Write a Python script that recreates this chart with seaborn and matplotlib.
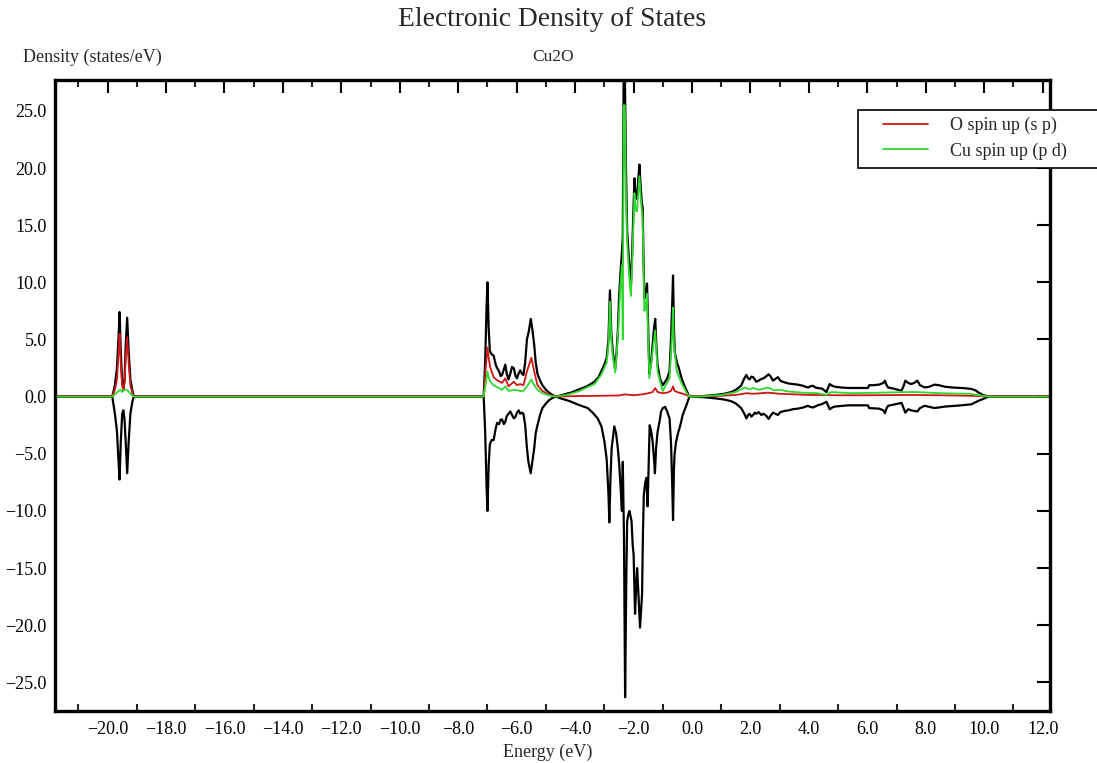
import matplotlib
matplotlib.use("Agg")
import matplotlib.pyplot as plt
import matplotlib.patches as mpatches
from matplotlib.lines import Line2D
from matplotlib.ticker import FuncFormatter, MultipleLocator
import seaborn as sns
import pandas as pd

# ---------------- data (energy in eV, density in states/eV) ----------------
total_up = [
    (-22.0, 0), (-19.84, 0), (-19.75, 1.0), (-19.68, 2.5), (-19.62, 5.5), (-19.59, 7.4),
    (-19.55, 4.0), (-19.50, 1.2), (-19.46, 0.7), (-19.42, 1.5), (-19.38, 4.5), (-19.33, 6.9),
    (-19.28, 4.0), (-19.22, 1.5), (-19.15, 0.5), (-19.10, 0), (-7.13, 0),
    (-7.08, 3.0), (-7.03, 8.0), (-7.00, 10.0), (-6.96, 6.0), (-6.92, 4.0), (-6.86, 3.7),
    (-6.79, 3.6), (-6.72, 2.8), (-6.67, 2.5), (-6.60, 2.2), (-6.55, 1.8), (-6.50, 1.9),
    (-6.44, 2.4), (-6.39, 2.8), (-6.34, 2.0), (-6.28, 1.5), (-6.22, 2.0), (-6.16, 2.6),
    (-6.10, 2.5), (-6.04, 1.8), (-5.99, 1.6), (-5.94, 2.0), (-5.88, 2.3), (-5.82, 2.0),
    (-5.77, 1.9), (-5.71, 3.0), (-5.65, 5.0), (-5.58, 5.8), (-5.52, 6.8), (-5.47, 6.0),
    (-5.40, 4.5), (-5.35, 3.0), (-5.29, 2.0), (-5.20, 1.4), (-5.12, 1.0), (-5.00, 0.6),
    (-4.89, 0.35), (-4.78, 0.15), (-4.66, 0),
    (-4.50, 0.1), (-4.30, 0.25), (-4.14, 0.35), (-3.90, 0.6), (-3.60, 0.9), (-3.34, 1.3),
    (-3.20, 1.7), (-3.11, 2.2), (-3.00, 2.8), (-2.92, 3.4), (-2.86, 5.0), (-2.81, 9.3),
    (-2.76, 5.5), (-2.71, 3.9), (-2.63, 2.4), (-2.58, 4.0), (-2.54, 5.7), (-2.50, 8.5),
    (-2.45, 10.8), (-2.40, 12.6), (-2.37, 14.0), (-2.34, 28.5), (-2.30, 28.5), (-2.26, 20.0),
    (-2.22, 14.5), (-2.18, 12.9), (-2.13, 10.8), (-2.09, 9.8), (-2.05, 12.5), (-2.01, 16.0),
    (-1.97, 19.1), (-1.93, 17.5), (-1.88, 17.3), (-1.84, 19.0), (-1.80, 20.3), (-1.76, 18.5),
    (-1.72, 17.0), (-1.69, 16.5), (-1.66, 12.0), (-1.63, 8.6), (-1.58, 9.0), (-1.54, 9.9),
    (-1.50, 6.0), (-1.46, 2.0), (-1.40, 3.0), (-1.35, 4.5), (-1.30, 6.0), (-1.26, 6.8),
    (-1.22, 4.5), (-1.18, 2.8), (-1.10, 1.6), (-1.00, 1.0), (-0.92, 1.3), (-0.85, 1.6),
    (-0.77, 2.2), (-0.72, 5.0), (-0.68, 8.0), (-0.65, 10.6), (-0.62, 6.0), (-0.59, 3.9),
    (-0.52, 3.0), (-0.45, 2.5), (-0.38, 1.8), (-0.30, 1.2), (-0.20, 0.6), (-0.09, 0),
    (0.10, 0.02), (0.40, 0.05), (0.80, 0.15), (1.10, 0.25), (1.34, 0.4), (1.50, 0.6),
    (1.68, 0.96), (1.79, 1.6), (1.86, 1.9), (1.92, 1.6), (1.97, 1.5), (2.03, 1.75),
    (2.09, 1.7), (2.15, 1.5), (2.20, 1.3), (2.28, 1.4), (2.37, 1.55), (2.45, 1.6),
    (2.55, 1.8), (2.62, 1.95), (2.68, 1.8), (2.77, 1.4), (2.85, 1.55), (2.94, 1.7),
    (3.02, 1.4), (3.10, 1.3), (3.17, 1.25), (3.30, 1.15), (3.45, 1.1), (3.62, 1.05),
    (3.80, 0.95), (3.90, 0.85), (3.97, 0.8), (4.05, 0.9), (4.14, 0.95), (4.22, 0.8),
    (4.31, 0.75), (4.45, 0.7), (4.60, 0.4), (4.66, 0.8), (4.71, 1.1), (4.80, 0.95),
    (4.88, 0.87), (5.10, 0.8), (5.34, 0.76), (5.70, 0.76), (6.02, 0.76), (6.06, 1.0),
    (6.20, 1.0), (6.40, 1.05), (6.55, 1.2), (6.60, 1.4), (6.66, 1.0), (6.71, 0.8),
    (6.90, 0.7), (7.05, 0.6), (7.17, 0.52), (7.25, 1.0), (7.30, 1.4), (7.40, 1.2),
    (7.50, 1.1), (7.60, 1.2), (7.71, 1.4), (7.80, 1.0), (7.96, 0.81), (8.10, 0.85),
    (8.20, 0.95), (8.30, 1.05), (8.45, 1.0), (8.65, 0.87), (8.90, 0.8), (9.22, 0.76),
    (9.40, 0.72), (9.56, 0.67), (9.70, 0.55), (9.79, 0.38), (9.95, 0.15), (10.15, 0),
    (12.5, 0),
]

total_down = [
    (-22.0, 0), (-19.84, 0), (-19.75, -1.5), (-19.68, -3.0), (-19.63, -5.5), (-19.59, -7.25),
    (-19.55, -4.0), (-19.50, -1.5), (-19.46, -1.2), (-19.42, -2.0), (-19.37, -4.5),
    (-19.33, -6.7), (-19.28, -4.0), (-19.22, -1.5), (-19.15, -0.4), (-19.10, 0), (-7.13, 0),
    (-7.08, -3.0), (-7.03, -8.0), (-7.00, -10.0), (-6.96, -6.0), (-6.92, -4.2), (-6.86, -3.8),
    (-6.79, -3.8), (-6.72, -2.8), (-6.67, -2.3), (-6.60, -2.4), (-6.55, -2.0), (-6.50, -2.0),
    (-6.44, -2.4), (-6.39, -2.2), (-6.34, -1.7), (-6.28, -1.5), (-6.22, -1.3), (-6.16, -1.6),
    (-6.10, -1.9), (-6.05, -1.8), (-5.99, -1.4), (-5.93, -1.2), (-5.88, -1.5), (-5.82, -1.4),
    (-5.77, -1.5), (-5.71, -2.5), (-5.65, -4.5), (-5.60, -5.7), (-5.52, -6.7), (-5.47, -5.8),
    (-5.40, -4.5), (-5.35, -3.2), (-5.29, -2.5), (-5.20, -1.6), (-5.12, -1.0), (-5.00, -0.6),
    (-4.89, -0.3), (-4.78, -0.12), (-4.66, 0),
    (-4.50, -0.15), (-4.30, -0.3), (-4.14, -0.44), (-3.90, -0.7), (-3.57, -1.0), (-3.40, -1.4),
    (-3.23, -1.9), (-3.10, -2.6), (-3.00, -3.9), (-2.92, -5.5), (-2.86, -8.5), (-2.83, -11.0),
    (-2.79, -7.0), (-2.75, -4.5), (-2.66, -2.6), (-2.60, -3.2), (-2.54, -4.5), (-2.49, -6.0),
    (-2.45, -7.7), (-2.40, -10.0), (-2.37, -5.7), (-2.33, -12.0), (-2.29, -26.3), (-2.25, -16.0),
    (-2.22, -10.9), (-2.18, -10.3), (-2.14, -10.0), (-2.10, -10.5), (-2.07, -10.9),
    (-2.03, -13.0), (-2.00, -13.8), (-1.95, -19.0), (-1.91, -16.5), (-1.88, -15.0),
    (-1.83, -17.5), (-1.78, -20.2), (-1.74, -18.5), (-1.71, -17.3), (-1.68, -12.0),
    (-1.65, -8.6), (-1.60, -7.5), (-1.56, -7.1), (-1.52, -9.6), (-1.48, -5.5), (-1.45, -2.5),
    (-1.40, -3.0), (-1.35, -3.9), (-1.30, -5.5), (-1.27, -6.7), (-1.23, -4.5), (-1.18, -3.1),
    (-1.10, -2.0), (-1.06, -1.3), (-1.00, -1.0), (-0.92, -0.9), (-0.85, -1.3), (-0.77, -1.9),
    (-0.72, -4.0), (-0.68, -7.5), (-0.65, -10.8), (-0.62, -6.5), (-0.60, -5.1), (-0.55, -4.0),
    (-0.49, -3.3), (-0.40, -2.5), (-0.32, -1.6), (-0.20, -0.8), (-0.09, 0),
    (0.10, -0.02), (0.40, -0.05), (0.80, -0.15), (1.10, -0.25), (1.34, -0.4), (1.50, -0.6),
    (1.68, -1.0), (1.79, -1.5), (1.86, -1.9), (1.92, -1.6), (1.97, -1.5), (2.03, -1.75),
    (2.09, -1.6), (2.15, -1.4), (2.20, -1.5), (2.28, -1.35), (2.37, -1.6), (2.45, -1.5),
    (2.55, -1.7), (2.62, -1.95), (2.68, -1.7), (2.77, -1.4), (2.85, -1.5), (2.94, -1.6),
    (3.02, -1.35), (3.17, -1.25), (3.30, -1.2), (3.45, -1.1), (3.62, -1.05), (3.80, -0.95),
    (3.97, -0.8), (4.05, -0.9), (4.14, -0.95), (4.31, -0.75), (4.45, -0.65), (4.60, -0.45),
    (4.71, -1.1), (4.80, -0.95), (4.88, -0.87), (5.34, -0.76), (6.02, -0.76), (6.06, -1.0),
    (6.40, -1.05), (6.55, -1.2), (6.60, -1.45), (6.66, -1.0), (6.71, -0.8), (7.17, -0.55),
    (7.30, -1.4), (7.40, -1.1), (7.50, -1.2), (7.71, -1.3), (7.80, -1.0), (7.96, -0.8),
    (8.30, -1.0), (8.65, -0.87), (9.22, -0.76), (9.56, -0.67), (9.79, -0.38), (10.15, 0),
    (12.5, 0),
]

o_spin_up = [
    (-22.0, 0), (-19.84, 0), (-19.75, 0.6), (-19.68, 1.5), (-19.62, 4.0), (-19.59, 5.5),
    (-19.55, 3.0), (-19.50, 1.0), (-19.46, 0.5), (-19.42, 1.2), (-19.38, 3.5), (-19.33, 5.2),
    (-19.28, 3.0), (-19.22, 1.0), (-19.15, 0.3), (-19.10, 0), (-7.13, 0),
    (-7.06, 2.5), (-7.00, 4.3), (-6.95, 3.2), (-6.90, 2.5), (-6.79, 1.7), (-6.65, 1.4),
    (-6.50, 1.2), (-6.39, 1.6), (-6.28, 0.9), (-6.10, 1.3), (-5.99, 1.0), (-5.88, 1.1),
    (-5.77, 1.0), (-5.65, 2.2), (-5.50, 3.4), (-5.40, 2.2), (-5.29, 1.0), (-5.12, 0.5),
    (-4.89, 0.15), (-4.66, 0),
    (-4.00, 0.05), (-3.00, 0.08), (-2.50, 0.1), (-2.30, 0.2), (-2.00, 0.12), (-1.70, 0.2),
    (-1.50, 0.3), (-1.35, 0.4), (-1.26, 0.75), (-1.18, 0.4), (-1.00, 0.3), (-0.85, 0.35),
    (-0.72, 0.5), (-0.65, 0.9), (-0.60, 0.5), (-0.45, 0.35), (-0.30, 0.25), (-0.20, 0.15),
    (-0.09, 0),
    (0.40, 0.02), (1.00, 0.08), (1.50, 0.15), (1.86, 0.3), (2.10, 0.25), (2.60, 0.35),
    (3.00, 0.25), (4.00, 0.15), (5.00, 0.12), (6.00, 0.12), (7.50, 0.15), (9.00, 0.1),
    (9.90, 0.05), (10.15, 0), (12.5, 0),
]

cu_spin_up = [
    (-22.0, 0), (-19.84, 0), (-19.75, 0.2), (-19.62, 0.5), (-19.56, 0.6), (-19.50, 0.4),
    (-19.44, 0.6), (-19.36, 0.6), (-19.30, 0.5), (-19.20, 0.2), (-19.10, 0), (-7.13, 0),
    (-7.05, 1.3), (-7.00, 2.2), (-6.95, 1.6), (-6.90, 1.3), (-6.79, 1.0), (-6.65, 0.8),
    (-6.50, 0.6), (-6.39, 0.9), (-6.28, 0.5), (-6.10, 0.6), (-5.88, 0.5), (-5.77, 0.5),
    (-5.62, 1.0), (-5.50, 1.5), (-5.40, 1.0), (-5.29, 0.6), (-5.12, 0.3), (-4.89, 0.1),
    (-4.66, 0),
    (-4.30, 0.15), (-3.90, 0.45), (-3.34, 1.1), (-3.11, 1.9), (-2.92, 3.0), (-2.86, 4.5),
    (-2.81, 8.3), (-2.76, 5.0), (-2.71, 3.5), (-2.63, 2.1), (-2.54, 5.2), (-2.45, 9.8),
    (-2.40, 11.5), (-2.37, 5.0), (-2.34, 25.5), (-2.30, 25.5), (-2.26, 18.0), (-2.22, 13.5),
    (-2.18, 11.8), (-2.13, 9.8), (-2.09, 8.8), (-2.05, 11.5), (-2.01, 14.8), (-1.97, 17.8),
    (-1.93, 16.3), (-1.88, 16.2), (-1.84, 17.8), (-1.80, 19.3), (-1.76, 17.5), (-1.69, 15.5),
    (-1.63, 7.5), (-1.58, 8.0), (-1.54, 9.0), (-1.50, 5.0), (-1.46, 1.6), (-1.35, 3.9),
    (-1.26, 5.8), (-1.18, 2.2), (-1.05, 0.9), (-1.00, 0.5), (-0.92, 0.9), (-0.77, 1.6),
    (-0.68, 5.5), (-0.65, 7.8), (-0.62, 4.5), (-0.52, 2.2), (-0.38, 1.3), (-0.20, 0.4),
    (-0.09, 0),
    (0.40, 0.03), (1.00, 0.15), (1.50, 0.4), (1.80, 0.8), (1.95, 0.65), (2.10, 0.75),
    (2.30, 0.6), (2.60, 0.8), (2.80, 0.55), (3.00, 0.6), (3.30, 0.45), (3.80, 0.35),
    (4.30, 0.3), (4.60, 0.15), (4.75, 0.4), (5.50, 0.3), (6.50, 0.35), (7.30, 0.4),
    (7.70, 0.4), (8.50, 0.3), (9.50, 0.25), (9.90, 0.1), (10.15, 0), (12.5, 0),
]

series_labels = ["O spin up (s p)", "Cu spin up (p d)"]
x_ticks = [-20, -18, -16, -14, -12, -10, -8, -6, -4, -2, 0, 2, 4, 6, 8, 10, 12]
y_ticks = [-25, -20, -15, -10, -5, 0, 5, 10, 15, 20, 25]


def frame(pairs):
    return pd.DataFrame(pairs, columns=["energy", "dos"])


# ---------------- style ----------------
sns.set_style("white")
plt.rcParams["font.family"] = ["Liberation Serif", "DejaVu Serif"]
plt.rcParams["axes.unicode_minus"] = True

W, H = 1097, 763
fig = plt.figure(figsize=(W / 100, H / 100), dpi=100)
ax = fig.add_axes([55 / W, 1 - 711 / H, (1050 - 55) / W, (711 - 80) / H])

BLACK, RED, GREEN = "#000000", "#d01515", "#2ed82e"
lw_total, lw_part = 1.6, 1.3

sns.lineplot(data=frame(total_up), x="energy", y="dos", ax=ax, color=BLACK,
             linewidth=lw_total, estimator=None, sort=False)
sns.lineplot(data=frame(total_down), x="energy", y="dos", ax=ax, color=BLACK,
             linewidth=lw_total, estimator=None, sort=False)
sns.lineplot(data=frame(o_spin_up), x="energy", y="dos", ax=ax, color=RED,
             linewidth=lw_part, estimator=None, sort=False)
sns.lineplot(data=frame(cu_spin_up), x="energy", y="dos", ax=ax, color=GREEN,
             linewidth=lw_part, estimator=None, sort=False)

ax.set_xlim(-21.8, 12.25)
ax.set_ylim(-27.5, 27.7)
ax.set_xlabel("")
ax.set_ylabel("")

fmt = FuncFormatter(lambda v, p: f"{v:.1f}".replace("-", "\u2212"))
ax.set_xticks(x_ticks)
ax.set_yticks(y_ticks)
ax.xaxis.set_minor_locator(MultipleLocator(1))
ax.xaxis.set_major_formatter(fmt)
ax.yaxis.set_major_formatter(fmt)
ax.tick_params(axis="both", which="major", direction="in", length=9.5, width=1.5,
               top=True, right=True, labelsize=13, colors="black")
ax.tick_params(axis="x", which="minor", direction="in", length=5, width=1.5,
               top=True, bottom=True)
ax.tick_params(axis="x", which="major", pad=7.5)
ax.tick_params(axis="y", which="major", pad=6)
for s in ax.spines.values():
    s.set_linewidth(2.4)
    s.set_color("black")
    s.set_visible(True)

# texts
fig.text(552 / W, 1 - 20 / H, "Electronic Density of States", ha="center", va="center",
         fontsize=19.8)
fig.text(553 / W, 1 - 57 / H, "Cu2O", ha="center", va="center", fontsize=12.5)
fig.text(92 / W, 1 - 57 / H, "Density (states/eV)", ha="center", va="center", fontsize=13)
fig.text(548 / W, 1 - 752 / H, "Energy (eV)", ha="center", va="center", fontsize=13)

# legend box (extends past the right frame edge)
box = mpatches.Rectangle((858 / W, 1 - 168 / H), (1100 - 858) / W, (168 - 110) / H,
                         transform=fig.transFigure, facecolor="white", edgecolor="black",
                         linewidth=1.2, zorder=5, clip_on=False)
fig.add_artist(box)
handles = [Line2D([], [], color=RED, linewidth=lw_part),
           Line2D([], [], color=GREEN, linewidth=lw_part)]
leg = fig.legend(handles, series_labels, loc="upper left",
                 bbox_to_anchor=(883 / W, 1 - 117 / H), frameon=False, fontsize=13,
                 borderpad=0, borderaxespad=0, handlelength=2.5, handletextpad=1.2,
                 labelspacing=0.45)
leg.set_zorder(6)
ax.get_legend() and ax.get_legend().remove()

fig.savefig("out.png", dpi=100)
